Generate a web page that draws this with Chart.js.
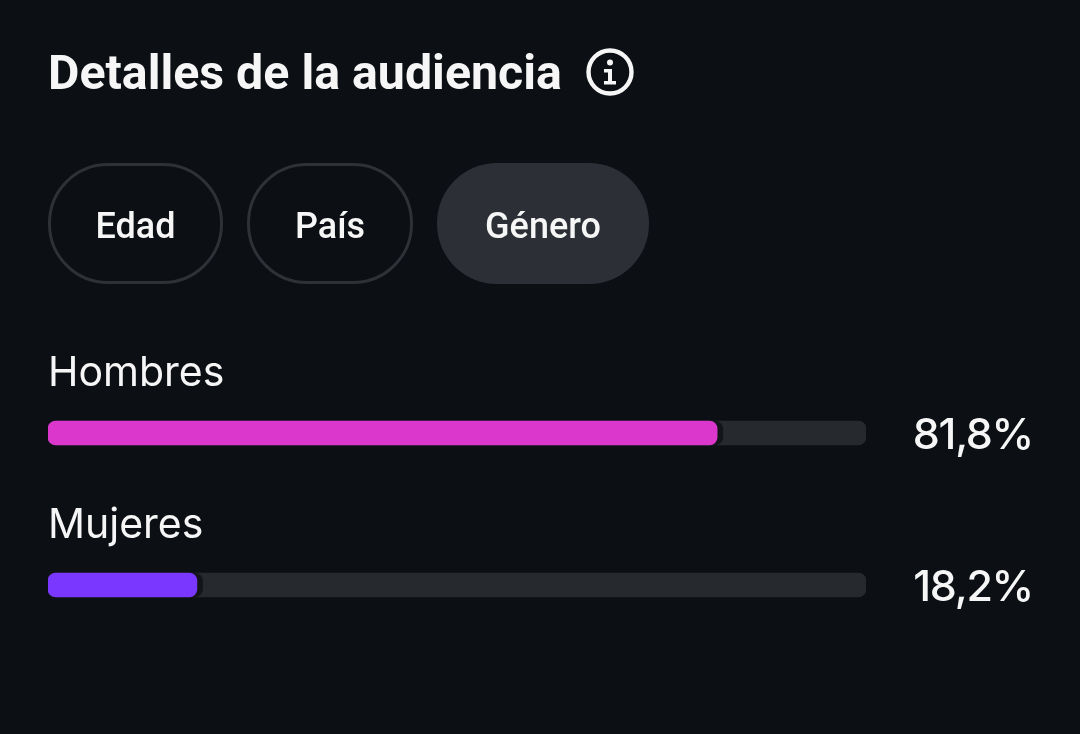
<!DOCTYPE html>
<html lang="es">
<head>
<meta charset="utf-8">
<title>Detalles de la audiencia</title>
<script src="https://cdn.jsdelivr.net/npm/chart.js@4"></script>
<style>
html,body{margin:0;padding:0;background:#0c0f14;width:1080px;height:734px;overflow:hidden}
#wrap{position:relative;width:1080px;height:734px}
canvas{position:absolute;left:0;top:0}
.t{position:absolute;color:#f6f6f6;white-space:nowrap}
#title{left:48px;top:45px;font:700 48.3px/56px Roboto,sans-serif}
.pill{position:absolute;top:163px;height:121px;border-radius:60px;box-sizing:border-box;display:flex;align-items:center;justify-content:center;color:#f6f6f6;font:500 36px Roboto,sans-serif;padding-top:4px}
.off{border:3px solid #2e3136}
.on{background:#2c2f35}
svg{position:absolute;left:586px;top:48px}
</style>
</head>
<body>
<div id="wrap">
<canvas id="c" width="1080" height="734"></canvas>
<div class="t" id="title">Detalles de la audiencia</div>
<svg width="48" height="48" viewBox="0 0 48 48">
<circle cx="24" cy="24" r="21.5" fill="none" stroke="#f6f6f6" stroke-width="4.4"/>
<circle cx="24" cy="14.5" r="3" fill="#f6f6f6"/>
<path d="M18 21h8v12h4v3.5H18V33h4v-8.5h-4z" fill="#f6f6f6"/>
</svg>
<div class="pill off" style="left:48px;width:175px">Edad</div>
<div class="pill off" style="left:247px;width:166px">País</div>
<div class="pill on" style="left:437px;width:212px">Género</div>
</div>
<script>
const categories = ['Hombres', 'Mujeres'];
const shares = [81.8, 18.2];
const trackValues = [100, 100];
const fillColors = ['#dc37cd', '#7a37ff'];

const valueLabels = {
  id: 'valueLabels',
  afterDatasetsDraw(chart) {
    const { ctx, scales: { y } } = chart;
    ctx.save();
    ctx.font = '500 43px Inter, sans-serif';
    ctx.letterSpacing = '-1.3px';
    ctx.fillStyle = '#f6f6f6';
    ctx.textAlign = 'right';
    ctx.textBaseline = 'middle';
    shares.forEach((v, i) => {
      ctx.fillText(String(v).replace('.', ',') + '%', 1033, y.getPixelForValue(i) + 3);
    });
    ctx.restore();
  }
};

const barTip = {
  id: 'barTip',
  afterDatasetDraw(chart, args) {
    if (args.index !== 0) return;
    const { ctx, scales: { x, y } } = chart;
    ctx.save();
    ctx.fillStyle = '#14141b';
    shares.forEach((v, i) => {
      const cy = y.getPixelForValue(i);
      const r = x.getPixelForValue(v) + 6;
      ctx.beginPath();
      ctx.roundRect(r - 30, cy - 12, 30, 24, 8);
      ctx.fill();
    });
    ctx.restore();
  }
};

new Chart(document.getElementById('c'), {
  type: 'bar',
  data: {
    labels: categories,
    datasets: [
      { data: trackValues, backgroundColor: '#26292e', order: 2, grouped: false, barThickness: 24, borderRadius: 8, borderSkipped: false },
      { data: shares, backgroundColor: fillColors, order: 1, grouped: false, barThickness: 24, borderRadius: 8, borderSkipped: false }
    ]
  },
  options: {
    indexAxis: 'y',
    responsive: false,
    devicePixelRatio: 1,
    animation: false,
    layout: { padding: { left: 48, right: 214, top: 357, bottom: 73 } },
    plugins: { legend: { display: false }, tooltip: { enabled: false } },
    scales: {
      x: { display: false, min: 0, max: 100 },
      y: {
        grid: { display: false, drawTicks: false },
        border: { display: false },
        ticks: {
          mirror: true, padding: 0, labelOffset: -59,
          color: '#f6f6f6',
          font: { family: 'Inter, sans-serif', size: 41, weight: 400 }
        }
      }
    }
  },
  plugins: [barTip, valueLabels]
});
</script>
</body>
</html>
